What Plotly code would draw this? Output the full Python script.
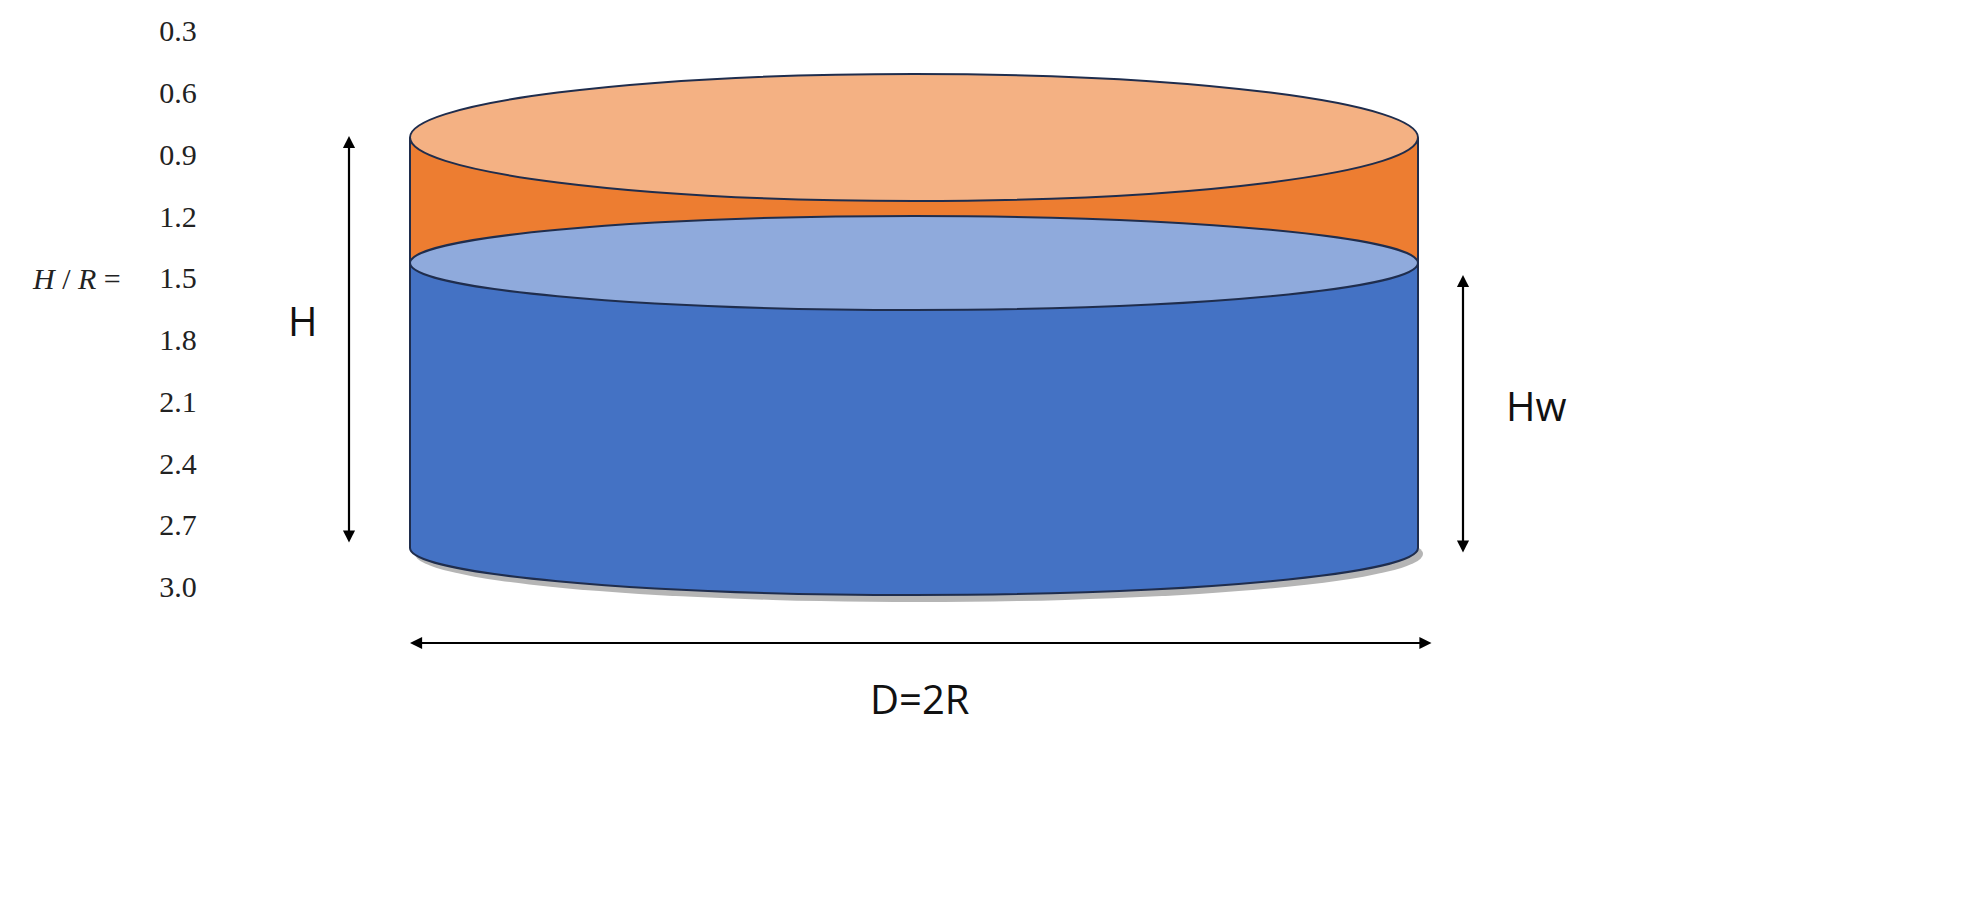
import plotly.graph_objects as go

ratios = ["0.3","0.6","0.9","1.2","1.5","1.8","2.1","2.4","2.7","3.0"]
ratio_y = [25, 87, 149, 211, 272, 334, 396, 458, 519, 581]

fig = go.Figure()
fig.add_trace(go.Scatter(x=[170]*len(ratios), y=ratio_y, text=ratios, mode="text",
                         textfont=dict(family="Liberation Serif", size=30, color="#222"),
                         hoverinfo="skip", showlegend=False))

L, R = 402, 1410
edge = dict(color="#1f2d4d", width=2)
shapes = [
    # shadow
    dict(type="circle", x0=L+5, x1=R+5, y0=498, y1=594, fillcolor="rgba(90,90,90,0.45)", line=dict(width=0)),
    # blue bottom ellipse
    dict(type="circle", x0=L, x1=R, y0=493, y1=587, fillcolor="#4472c4", line=edge),
    # blue body
    dict(type="rect", x0=L, x1=R, y0=255, y1=540, fillcolor="#4472c4", line=dict(width=0)),
    # orange body
    dict(type="rect", x0=L, x1=R, y0=130, y1=255, fillcolor="#ed7d31", line=dict(width=0)),
    dict(type="line", x0=L, x1=L, y0=130, y1=540, line=edge),
    dict(type="line", x0=R, x1=R, y0=130, y1=540, line=edge),
    # water surface
    dict(type="circle", x0=L, x1=R, y0=208, y1=302, fillcolor="#8faadc", line=edge),
    # top
    dict(type="circle", x0=L, x1=R, y0=66, y1=193, fillcolor="#f4b183", line=edge),
]
arrow = dict(xref="x", yref="y", axref="x", ayref="y", text="", showarrow=True,
             arrowhead=2, startarrowhead=2, arrowside="end+start", arrowwidth=2.2,
             arrowsize=1.1, startarrowsize=1.1, arrowcolor="black")
ann = [
    dict(x=341, y=128, ax=341, ay=536, **arrow),
    dict(x=1455, y=267, ax=1455, ay=546, **arrow),
    dict(x=402, y=635, ax=1425, ay=635, **arrow),
]
lab = dict(xref="x", yref="y", showarrow=False, font=dict(family="Open Sans", size=40, color="#111"))
ann += [
    dict(x=295, y=312, text="H", **lab),
    dict(x=1528, y=397, text="Hw", **lab),
    dict(x=912, y=690, text="D=2R", **lab),
    dict(x=68, y=270, text="<i>H</i> / <i>R</i> =", showarrow=False, xref="x", yref="y",
         font=dict(family="Liberation Serif", size=30, color="#222")),
]
fig.update_layout(width=1979, height=899, margin=dict(l=0, r=0, t=0, b=0),
                  plot_bgcolor="white", paper_bgcolor="white", shapes=shapes, annotations=ann,
                  xaxis=dict(range=[0, 1979], visible=False, fixedrange=True),
                  yaxis=dict(range=[899, 0], visible=False, fixedrange=True))
fig.write_html("out.html")
